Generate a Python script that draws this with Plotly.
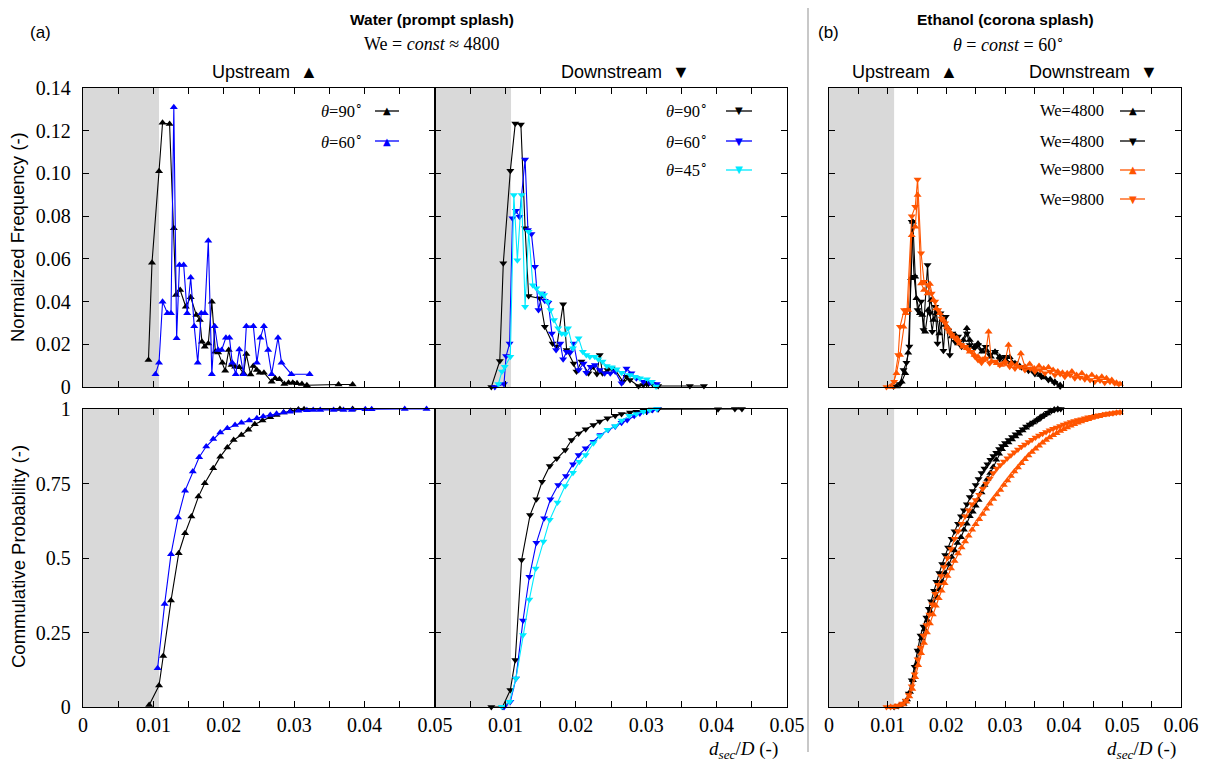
import plotly.graph_objects as go

# page offset of the plot div inside the browser window (default body margin)
OFF = 8
W, H = 1211 - OFF, 763 - OFF

# ---------------- data ----------------
# (a) Water, normalized frequency, upstream
WF_UP90_X = [0.0093, 0.0098, 0.0108, 0.0113, 0.0123, 0.0129, 0.0132, 0.0138, 0.0146, 0.0153, 0.0161, 0.0166, 0.0169, 0.0173, 0.0178, 0.0183, 0.0188, 0.0192, 0.0198, 0.0202, 0.0207, 0.0211, 0.0216, 0.0222, 0.0228, 0.0232, 0.0238, 0.0242, 0.0247, 0.0251, 0.0257, 0.0268, 0.0273, 0.0279, 0.0286, 0.0292, 0.0298, 0.0304, 0.0311, 0.0318, 0.0363, 0.0383]
WF_UP90_Y = [0.0126, 0.0582, 0.101, 0.1237, 0.1231, 0.0743, 0.0431, 0.0454, 0.0376, 0.042, 0.0337, 0.0314, 0.0212, 0.0189, 0.0204, 0.0399, 0.0165, 0.0161, 0.0114, 0.0076, 0.0173, 0.0103, 0.0095, 0.0092, 0.0064, 0.0154, 0.0059, 0.0098, 0.008, 0.0067, 0.0067, 0.0025, 0.0041, 0.0036, 0.0014, 0.002, 0.002, 0.0017, 0.0014, 0.0008, 0.0012, 0.0012]
WF_UP60_X = [0.0103, 0.0108, 0.0113, 0.0120, 0.0125, 0.0129, 0.0133, 0.0137, 0.0143, 0.0148, 0.0153, 0.0158, 0.0163, 0.0168, 0.0173, 0.0178, 0.0183, 0.0187, 0.0192, 0.0197, 0.0203, 0.0208, 0.0212, 0.0217, 0.0222, 0.0228, 0.0232, 0.0242, 0.0247, 0.0252, 0.0257, 0.0263, 0.0268, 0.0277, 0.0282, 0.0296, 0.0322]
WF_UP60_Y = [0.006, 0.0114, 0.0399, 0.0345, 0.0345, 0.131, 0.0228, 0.0571, 0.0571, 0.0345, 0.0513, 0.0285, 0.0114, 0.0345, 0.0345, 0.0685, 0.006, 0.0285, 0.0173, 0.0173, 0.0231, 0.0231, 0.0114, 0.006, 0.0176, 0.006, 0.0285, 0.0285, 0.0114, 0.0231, 0.0285, 0.0173, 0.006, 0.0231, 0.0114, 0.006, 0.006]

# (a) Water, normalized frequency, downstream
WF_DN90_X = [0.0080, 0.0092, 0.0097, 0.0107, 0.0114, 0.0122, 0.0128, 0.0133, 0.0149, 0.0156, 0.0167, 0.0173, 0.0182, 0.0187, 0.0197, 0.0201, 0.0208, 0.0218, 0.0225, 0.0230, 0.0234, 0.0238, 0.0245, 0.0251, 0.0256, 0.0267, 0.0272, 0.0277, 0.0289, 0.0296, 0.0303, 0.0309, 0.0317, 0.0362, 0.0382]
WF_DN90_Y = [0.0, 0.0122, 0.0579, 0.1012, 0.1234, 0.1229, 0.0743, 0.0426, 0.0415, 0.0282, 0.0204, 0.0189, 0.0388, 0.0173, 0.011, 0.0072, 0.0119, 0.0064, 0.0095, 0.0061, 0.015, 0.0064, 0.008, 0.0087, 0.008, 0.0025, 0.0048, 0.0033, 0.0005, 0.0009, 0.0014, 0.0014, 0.0005, 0.0005, 0.0005]
WF_DN60_X = [0.0085, 0.0098, 0.0101, 0.0106, 0.0110, 0.0115, 0.0120, 0.0128, 0.0132, 0.0137, 0.0142, 0.0147, 0.0152, 0.0156, 0.0161, 0.0166, 0.0172, 0.0178, 0.0182, 0.0187, 0.0192, 0.0197, 0.0204, 0.0211, 0.0215, 0.0221, 0.0227, 0.0234, 0.0241, 0.0249, 0.0256, 0.0265, 0.0272, 0.0279, 0.0286, 0.0296, 0.0305, 0.0315]
WF_DN60_Y = [0.0, 0.0014, 0.0145, 0.0204, 0.079, 0.0825, 0.0797, 0.1065, 0.0735, 0.0716, 0.0563, 0.036, 0.0438, 0.0404, 0.0395, 0.0251, 0.0173, 0.0204, 0.013, 0.0165, 0.0161, 0.0204, 0.008, 0.011, 0.0067, 0.0095, 0.0103, 0.008, 0.0064, 0.0064, 0.0072, 0.0017, 0.0087, 0.0064, 0.0041, 0.0025, 0.002, 0.0014]
WF_DN45_X = [0.0090, 0.0095, 0.0099, 0.0107, 0.0112, 0.0117, 0.0123, 0.0128, 0.0133, 0.0139, 0.0144, 0.0150, 0.0155, 0.0160, 0.0164, 0.0169, 0.0175, 0.0180, 0.0185, 0.0189, 0.0196, 0.0204, 0.0210, 0.0215, 0.0220, 0.0227, 0.0232, 0.0238, 0.0244, 0.0251, 0.0258, 0.0265, 0.0277, 0.0284, 0.0291, 0.0301, 0.0308, 0.0314]
WF_DN45_Y = [0.0014, 0.0072, 0.0095, 0.0142, 0.0899, 0.0594, 0.0899, 0.0376, 0.0727, 0.0477, 0.0462, 0.0438, 0.0431, 0.0399, 0.036, 0.0314, 0.0275, 0.0251, 0.0248, 0.0275, 0.0181, 0.0228, 0.0165, 0.015, 0.0142, 0.0142, 0.013, 0.0119, 0.0098, 0.0092, 0.0083, 0.0067, 0.0056, 0.0048, 0.0041, 0.0036, 0.0025, 0.0002]

# (b) Ethanol, normalized frequency
EF_UP48_X = [0.0115, 0.0124, 0.0130, 0.0135, 0.0140, 0.0143, 0.0147, 0.0149, 0.0155, 0.0159, 0.0164, 0.0169, 0.0174, 0.0178, 0.0183, 0.0188, 0.0193, 0.0198, 0.0203, 0.0209, 0.0215, 0.0220, 0.0229, 0.0235, 0.0240, 0.0248, 0.0254, 0.0261, 0.0269, 0.0276, 0.0283, 0.0291, 0.0300, 0.0308, 0.0317, 0.0325, 0.0334, 0.0343, 0.0351, 0.0360, 0.0368, 0.0377, 0.0385, 0.0394]
EF_UP48_Y = [0.0002, 0.0025, 0.0064, 0.016, 0.0509, 0.0774, 0.0516, 0.0415, 0.0345, 0.0337, 0.0259, 0.036, 0.0407, 0.0314, 0.0345, 0.0251, 0.0314, 0.029, 0.0275, 0.0236, 0.0243, 0.0204, 0.022, 0.0275, 0.022, 0.0189, 0.0204, 0.0165, 0.017, 0.0142, 0.0165, 0.0142, 0.0126, 0.0139, 0.0111, 0.0098, 0.0092, 0.008, 0.0072, 0.0056, 0.0045, 0.0036, 0.0025, 0.0009]
EF_DN48_X = [0.0110, 0.0121, 0.0127, 0.0132, 0.0137, 0.0141, 0.0145, 0.0151, 0.0157, 0.0161, 0.0168, 0.0172, 0.0176, 0.0181, 0.0185, 0.0190, 0.0195, 0.0199, 0.0206, 0.0210, 0.0215, 0.0220, 0.0226, 0.0235, 0.0240, 0.0248, 0.0254, 0.0260, 0.0267, 0.0274, 0.0283, 0.0291, 0.0300, 0.0308, 0.0317, 0.0328, 0.0340, 0.0351, 0.0362, 0.0374, 0.0384, 0.0394]
EF_DN48_Y = [0.0002, 0.0014, 0.008, 0.0114, 0.019, 0.0774, 0.0516, 0.036, 0.040, 0.0267, 0.0571, 0.0345, 0.0259, 0.0376, 0.0204, 0.0345, 0.017, 0.0329, 0.015, 0.0251, 0.0212, 0.0236, 0.0189, 0.0251, 0.0197, 0.0181, 0.0197, 0.0173, 0.0189, 0.015, 0.0165, 0.013, 0.0142, 0.0114, 0.0111, 0.0092, 0.0076, 0.0061, 0.0048, 0.0033, 0.002, 0.0002]
EF_UP98_X = [0.0107, 0.0115, 0.0121, 0.0127, 0.0131, 0.0135, 0.0141, 0.0147, 0.0151, 0.0157, 0.0162, 0.0168, 0.0172, 0.0178, 0.0183, 0.0189, 0.0195, 0.0201, 0.0206, 0.0212, 0.0218, 0.0223, 0.0229, 0.0235, 0.0240, 0.0248, 0.0254, 0.0261, 0.0266, 0.0272, 0.0277, 0.0286, 0.0293, 0.0300, 0.0306, 0.0311, 0.0320, 0.0327, 0.0334, 0.0342, 0.0350, 0.0358, 0.0366, 0.0374, 0.0382, 0.0390, 0.0398, 0.0406, 0.0414, 0.0422, 0.0431, 0.0439, 0.0448, 0.0456, 0.0465, 0.0473, 0.0482, 0.0490, 0.0496]
EF_UP98_Y = [0.0, 0.0064, 0.015, 0.0282, 0.0345, 0.036, 0.0711, 0.075, 0.0899, 0.0485, 0.0454, 0.0438, 0.0482, 0.0407, 0.0368, 0.0345, 0.0314, 0.0282, 0.0259, 0.0236, 0.0228, 0.0204, 0.0189, 0.0181, 0.0165, 0.015, 0.0142, 0.0126, 0.0134, 0.0259, 0.0119, 0.0111, 0.0103, 0.0119, 0.0197, 0.0111, 0.0103, 0.0157, 0.0095, 0.0108, 0.0087, 0.0098, 0.0087, 0.0092, 0.008, 0.0072, 0.0067, 0.0064, 0.0072, 0.0056, 0.0064, 0.0048, 0.0056, 0.0044, 0.0048, 0.0041, 0.0033, 0.002, 0.0014]
EF_DN98_X = [0.0098, 0.0111, 0.0118, 0.0121, 0.0128, 0.0133, 0.0141, 0.0147, 0.0151, 0.0157, 0.0162, 0.0169, 0.0175, 0.0181, 0.0186, 0.0192, 0.0198, 0.0203, 0.0209, 0.0215, 0.0220, 0.0226, 0.0232, 0.0237, 0.0243, 0.0249, 0.0254, 0.0260, 0.0267, 0.0274, 0.0283, 0.0291, 0.0300, 0.0308, 0.0317, 0.0325, 0.0334, 0.0343, 0.0351, 0.0360, 0.0368, 0.0377, 0.0385, 0.0394, 0.0402, 0.0411, 0.0419, 0.0428, 0.0436, 0.0445, 0.0453, 0.0462, 0.0470, 0.0479, 0.0487, 0.0494]
EF_DN98_Y = [0.0, 0.0025, 0.015, 0.0282, 0.036, 0.036, 0.080, 0.0844, 0.0972, 0.0626, 0.0493, 0.0477, 0.0438, 0.040, 0.036, 0.0321, 0.0298, 0.0267, 0.0243, 0.0228, 0.0212, 0.0197, 0.0189, 0.0176, 0.0165, 0.0142, 0.0126, 0.0114, 0.0134, 0.0111, 0.0119, 0.0103, 0.0111, 0.0095, 0.0087, 0.0095, 0.008, 0.0087, 0.0072, 0.008, 0.0064, 0.0072, 0.0056, 0.0061, 0.0048, 0.0056, 0.0041, 0.0045, 0.0036, 0.0033, 0.0025, 0.003, 0.002, 0.0025, 0.0017, 0.0014]

# (a) Water, cumulative probability
WC_UP90_X = [0.0094, 0.0108, 0.0114, 0.0125, 0.0136, 0.0145, 0.0154, 0.0164, 0.0173, 0.0185, 0.0195, 0.0205, 0.0214, 0.0225, 0.0235, 0.0244, 0.0255, 0.0266, 0.0275, 0.0285, 0.0295, 0.0306, 0.0314, 0.0365, 0.0383]
WC_UP90_Y = [0.007, 0.072, 0.171, 0.357, 0.516, 0.583, 0.639, 0.706, 0.751, 0.801, 0.84, 0.871, 0.896, 0.913, 0.93, 0.949, 0.961, 0.972, 0.98, 0.988, 0.994, 0.998, 0.999, 1.0, 1.0]
WC_UP60_X = [0.0106, 0.0116, 0.0125, 0.0135, 0.0145, 0.0156, 0.0165, 0.0175, 0.0185, 0.0195, 0.0205, 0.0216, 0.0225, 0.0236, 0.0247, 0.0256, 0.0266, 0.0275, 0.0285, 0.0294, 0.0306, 0.0318, 0.0327, 0.0337, 0.0356, 0.0370, 0.0382, 0.0401, 0.0410, 0.0457, 0.0488]
WC_UP60_Y = [0.13, 0.346, 0.513, 0.636, 0.726, 0.79, 0.838, 0.874, 0.899, 0.921, 0.935, 0.946, 0.954, 0.961, 0.969, 0.975, 0.98, 0.984, 0.988, 0.991, 0.994, 0.996, 0.997, 0.997, 0.997, 0.997, 0.997, 0.999, 0.999, 1.0, 1.0]
WC_DN90_X = [0.0080, 0.0096, 0.0107, 0.0114, 0.0123, 0.0135, 0.0144, 0.0152, 0.0163, 0.0173, 0.0185, 0.0194, 0.0204, 0.0214, 0.0225, 0.0234, 0.0245, 0.0256, 0.0265, 0.0277, 0.0286, 0.0296, 0.0308, 0.0317, 0.0402, 0.0426, 0.0436]
WC_DN90_Y = [0.0, 0.001, 0.057, 0.158, 0.493, 0.644, 0.697, 0.756, 0.809, 0.834, 0.862, 0.896, 0.918, 0.932, 0.946, 0.958, 0.969, 0.977, 0.983, 0.988, 0.991, 0.995, 0.998, 0.999, 0.999, 1.0, 1.0]
WC_DN60_X = [0.0098, 0.0107, 0.0115, 0.0125, 0.0134, 0.0144, 0.0155, 0.0164, 0.0175, 0.0186, 0.0196, 0.0204, 0.0214, 0.0225, 0.0235, 0.0246, 0.0256, 0.0265, 0.0273, 0.0283, 0.0291, 0.0301, 0.0309, 0.0316]
WC_DN60_Y = [0.0, 0.018, 0.096, 0.29, 0.437, 0.551, 0.633, 0.697, 0.745, 0.775, 0.815, 0.846, 0.868, 0.89, 0.913, 0.93, 0.941, 0.954, 0.963, 0.977, 0.985, 0.991, 0.997, 1.0]
WC_DN45_X = [0.0095, 0.0106, 0.0115, 0.0125, 0.0134, 0.0143, 0.0154, 0.0163, 0.0174, 0.0185, 0.0196, 0.0205, 0.0214, 0.0225, 0.0234, 0.0245, 0.0256, 0.0265, 0.0276, 0.0286, 0.0296, 0.0305, 0.0315]
WC_DN45_Y = [0.001, 0.018, 0.096, 0.242, 0.361, 0.465, 0.555, 0.628, 0.686, 0.742, 0.786, 0.823, 0.846, 0.885, 0.909, 0.93, 0.943, 0.961, 0.977, 0.983, 0.991, 0.997, 1.0]

# (b) Ethanol, cumulative probability
EC_DN48_X = [0.0111, 0.0118, 0.0125, 0.0131, 0.0136, 0.0141, 0.0146, 0.0151, 0.0156, 0.0161, 0.0166, 0.0170, 0.0174, 0.0179, 0.0183, 0.0188, 0.0193, 0.0198, 0.0203, 0.0209, 0.0214, 0.0220, 0.0225, 0.0230, 0.0235, 0.0240, 0.0245, 0.0250, 0.0255, 0.0260, 0.0265, 0.0270, 0.0275, 0.0280, 0.0285, 0.0290, 0.0295, 0.0300, 0.0306, 0.0312, 0.0318, 0.0324, 0.0330, 0.0336, 0.0342, 0.0348, 0.0355, 0.0361, 0.0367, 0.0373, 0.0379, 0.0384, 0.0390, 0.0395]
EC_DN48_Y = [0.0, 0.003, 0.008, 0.02, 0.045, 0.09, 0.135, 0.19, 0.24, 0.27, 0.30, 0.33, 0.355, 0.39, 0.42, 0.45, 0.48, 0.51, 0.535, 0.565, 0.59, 0.615, 0.64, 0.66, 0.68, 0.705, 0.725, 0.745, 0.765, 0.785, 0.8, 0.815, 0.83, 0.842, 0.853, 0.866, 0.876, 0.886, 0.896, 0.906, 0.915, 0.924, 0.932, 0.941, 0.948, 0.955, 0.962, 0.97, 0.978, 0.987, 0.993, 0.997, 0.999, 1.0]
EC_UP48_X = [0.0113, 0.0120, 0.0127, 0.0133, 0.0138, 0.0143, 0.0148, 0.0153, 0.0158, 0.0163, 0.0168, 0.0173, 0.0178, 0.0183, 0.0188, 0.0193, 0.0198, 0.0204, 0.0209, 0.0214, 0.0219, 0.0225, 0.0230, 0.0235, 0.0240, 0.0245, 0.0250, 0.0255, 0.0260, 0.0265, 0.0270, 0.0275, 0.0280, 0.0285, 0.0290, 0.0295, 0.0300, 0.0306, 0.0312, 0.0318, 0.0324, 0.0330, 0.0336, 0.0342, 0.0348, 0.0354, 0.0360, 0.0366, 0.0372, 0.0378, 0.0384, 0.0390]
EC_UP48_Y = [0.0, 0.004, 0.01, 0.025, 0.05, 0.09, 0.14, 0.19, 0.23, 0.26, 0.29, 0.32, 0.345, 0.37, 0.395, 0.42, 0.45, 0.478, 0.503, 0.525, 0.55, 0.57, 0.595, 0.615, 0.64, 0.655, 0.675, 0.695, 0.72, 0.745, 0.765, 0.785, 0.805, 0.83, 0.85, 0.865, 0.878, 0.888, 0.898, 0.908, 0.917, 0.928, 0.937, 0.947, 0.955, 0.963, 0.972, 0.979, 0.985, 0.993, 0.998, 1.0]
EC_DN98_X = [0.0098, 0.0105, 0.0112, 0.0119, 0.0125, 0.0131, 0.0136, 0.0141, 0.0146, 0.0151, 0.0156, 0.0161, 0.0166, 0.0171, 0.0176, 0.0181, 0.0186, 0.0191, 0.0196, 0.0202, 0.0208, 0.0214, 0.0220, 0.0226, 0.0232, 0.0238, 0.0244, 0.0250, 0.0256, 0.0262, 0.0268, 0.0274, 0.0280, 0.0286, 0.0292, 0.0298, 0.0304, 0.0310, 0.0316, 0.0322, 0.0328, 0.0334, 0.0340, 0.0346, 0.0352, 0.0358, 0.0364, 0.0370, 0.0376, 0.0382, 0.0388, 0.0394, 0.0400, 0.0406, 0.0412, 0.0418, 0.0424, 0.0430, 0.0436, 0.0442, 0.0448, 0.0454, 0.0460, 0.0466, 0.0472, 0.0478, 0.0484, 0.0490, 0.0496]
EC_DN98_Y = [0.0, 0.0, 0.002, 0.005, 0.012, 0.022, 0.04, 0.07, 0.11, 0.16, 0.2, 0.24, 0.275, 0.31, 0.345, 0.38, 0.41, 0.44, 0.47, 0.5, 0.53, 0.565, 0.59, 0.615, 0.64, 0.66, 0.68, 0.695, 0.712, 0.732, 0.75, 0.767, 0.785, 0.80, 0.812, 0.824, 0.835, 0.845, 0.855, 0.864, 0.873, 0.881, 0.889, 0.897, 0.904, 0.911, 0.917, 0.923, 0.929, 0.934, 0.938, 0.943, 0.948, 0.952, 0.956, 0.96, 0.963, 0.966, 0.969, 0.972, 0.974, 0.977, 0.979, 0.981, 0.983, 0.985, 0.986, 0.988, 0.989]
EC_UP98_X = [0.0105, 0.0112, 0.0119, 0.0126, 0.0132, 0.0137, 0.0142, 0.0147, 0.0152, 0.0157, 0.0162, 0.0167, 0.0172, 0.0177, 0.0182, 0.0187, 0.0192, 0.0197, 0.0202, 0.0208, 0.0214, 0.0220, 0.0226, 0.0232, 0.0238, 0.0244, 0.0250, 0.0256, 0.0262, 0.0268, 0.0274, 0.0280, 0.0286, 0.0292, 0.0298, 0.0304, 0.0310, 0.0316, 0.0322, 0.0328, 0.0334, 0.0340, 0.0346, 0.0352, 0.0358, 0.0364, 0.0370, 0.0376, 0.0382, 0.0388, 0.0394, 0.0400, 0.0406, 0.0412, 0.0418, 0.0424, 0.0430, 0.0436, 0.0442, 0.0448, 0.0454, 0.0460, 0.0466, 0.0472, 0.0478, 0.0484, 0.0490, 0.0496]
EC_UP98_Y = [0.0, 0.001, 0.003, 0.008, 0.018, 0.035, 0.06, 0.1, 0.14, 0.18, 0.215, 0.25, 0.28, 0.31, 0.34, 0.365, 0.39, 0.415, 0.44, 0.465, 0.49, 0.515, 0.535, 0.555, 0.575, 0.595, 0.613, 0.63, 0.648, 0.665, 0.682, 0.698, 0.713, 0.728, 0.745, 0.76, 0.775, 0.79, 0.804, 0.818, 0.831, 0.844, 0.856, 0.867, 0.877, 0.887, 0.896, 0.904, 0.912, 0.919, 0.926, 0.932, 0.938, 0.944, 0.949, 0.954, 0.958, 0.962, 0.966, 0.97, 0.973, 0.976, 0.979, 0.981, 0.983, 0.985, 0.987, 0.988]

# shaded (unresolved) size range, per liquid
WATER_LIMIT = 0.0108
ETHANOL_LIMIT = 0.0111

# axis ticks (labelled) – minor ticks every 0.005 are added by the axis
X_TICKS_05 = [0.0, 0.01, 0.02, 0.03, 0.04, 0.05]
X_LABELS_05 = ["0", "0.01", "0.02", "0.03", "0.04", "0.05"]
X_TICKS_05_MID = [0.01, 0.02, 0.03, 0.04, 0.05]
X_LABELS_05_MID = ["0.01", "0.02", "0.03", "0.04", "0.05"]
X_TICKS_06 = [0.0, 0.01, 0.02, 0.03, 0.04, 0.05, 0.06]
X_LABELS_06 = ["0", "0.01", "0.02", "0.03", "0.04", "0.05", "0.06"]
Y_TICKS_FREQ = [0, 0.02, 0.04, 0.06, 0.08, 0.10, 0.12, 0.14]
Y_LABELS_FREQ = ["0", "0.02", "0.04", "0.06", "0.08", "0.10", "0.12", "0.14"]
Y_TICKS_CUM = [0, 0.25, 0.5, 0.75, 1]
Y_LABELS_CUM = ["0", "0.25", "0.5", "0.75", "1"]

# ---------------- styling ----------------
BLACK = "#000000"
BLUE = "#0000ff"
CYAN = "#00eaff"
ORANGE = "#ff5500"
SERIF = "Liberation Serif"
SANS = "Liberation Sans"

fig = go.Figure()


def px(x):
    return (x - OFF) / W


def py(y):
    return 1 - (y - OFF) / H


def add(xs, ys, color, symbol, ax):
    fig.add_trace(go.Scatter(
        x=xs, y=ys, mode="lines+markers",
        line=dict(color=color, width=1.1),
        marker=dict(symbol=symbol, size=7, color=color, line=dict(width=0)),
        xaxis="x" + ax, yaxis="y" + ax, cliponaxis=False,
        showlegend=False, hoverinfo="skip"))


UP, DN = "triangle-up", "triangle-down"
add(WF_UP90_X, WF_UP90_Y, BLACK, UP, "")
add(WF_UP60_X, WF_UP60_Y, BLUE, UP, "")
add(WF_DN90_X, WF_DN90_Y, BLACK, DN, "2")
add(WF_DN60_X, WF_DN60_Y, BLUE, DN, "2")
add(WF_DN45_X, WF_DN45_Y, CYAN, DN, "2")
add(EF_UP48_X, EF_UP48_Y, BLACK, UP, "3")
add(EF_DN48_X, EF_DN48_Y, BLACK, DN, "3")
add(EF_UP98_X, EF_UP98_Y, ORANGE, UP, "3")
add(EF_DN98_X, EF_DN98_Y, ORANGE, DN, "3")
add(WC_UP90_X, WC_UP90_Y, BLACK, UP, "4")
add(WC_UP60_X, WC_UP60_Y, BLUE, UP, "4")
add(WC_DN90_X, WC_DN90_Y, BLACK, DN, "5")
add(WC_DN60_X, WC_DN60_Y, BLUE, DN, "5")
add(WC_DN45_X, WC_DN45_Y, CYAN, DN, "5")
add(EC_DN48_X, EC_DN48_Y, BLACK, DN, "6")
add(EC_UP48_X, EC_UP48_Y, BLACK, UP, "6")
add(EC_DN98_X, EC_DN98_Y, ORANGE, DN, "6")
add(EC_UP98_X, EC_UP98_Y, ORANGE, UP, "6")

XD = [[px(83), px(435)], [px(435), px(787)], [px(829), px(1181)]]
YD = [[py(387), py(88)], [py(707), py(409)]]

layout = dict(
    width=W, height=H,
    margin=dict(l=0, r=0, t=0, b=0, autoexpand=False),
    paper_bgcolor="white", plot_bgcolor="white",
    showlegend=False,
)

common = dict(showgrid=False, zeroline=False, showline=True, linecolor=BLACK,
              linewidth=1.3, ticks="inside", ticklen=6, tickwidth=1,
              tickcolor=BLACK, mirror="allticks", automargin=False,
              tickfont=dict(family=SERIF, size=20, color=BLACK))

shapes = []
for i in range(6):
    row, col = divmod(i, 3)
    sid = "" if i == 0 else str(i + 1)
    if col == 2:
        tv, tt, rng, lim = X_TICKS_06, X_LABELS_06, [0, 0.06], ETHANOL_LIMIT
    elif col == 1:
        tv, tt, rng, lim = X_TICKS_05_MID, X_LABELS_05_MID, [0, 0.05], WATER_LIMIT
    else:
        tv, tt, rng, lim = X_TICKS_05, X_LABELS_05, [0, 0.05], WATER_LIMIT
    layout["xaxis" + sid] = dict(common, domain=XD[col], range=rng,
                                 anchor="y" + sid, tickmode="array",
                                 tickvals=tv, ticktext=tt,
                                 showticklabels=(row == 1),
                                 minor=dict(tickmode="linear", tick0=0,
                                            dtick=0.005, ticks="inside",
                                            ticklen=6, tickwidth=1,
                                            tickcolor=BLACK, showgrid=False))
    if row == 0:
        yv, yt, yr = Y_TICKS_FREQ, Y_LABELS_FREQ, [0, 0.14]
    else:
        yv, yt, yr = Y_TICKS_CUM, Y_LABELS_CUM, [0, 1]
    layout["yaxis" + sid] = dict(common, domain=YD[row], range=yr,
                                 anchor="x" + sid, tickmode="array",
                                 tickvals=yv, ticktext=yt,
                                 ticklabelstandoff=7,
                                 showticklabels=(col == 0))
    shapes.append(dict(type="rect", xref="x" + sid, yref="y" + sid + " domain",
                       x0=0, x1=lim, y0=0, y1=1, fillcolor="#d9d9d9",
                       line=dict(width=0), layer="below"))

# separator line between (a) and (b)
shapes.append(dict(type="line", xref="paper", yref="paper",
                   x0=px(808), x1=px(808), y0=py(8), y1=py(752),
                   line=dict(color="#c8c8c8", width=2)))

ann = []


def text(x, y, s, size, family=SANS, xanchor="center", angle=0, color=BLACK):
    ann.append(dict(x=px(x), y=py(y), xref="paper", yref="paper", text=s,
                    showarrow=False, xanchor=xanchor, yanchor="middle",
                    textangle=angle,
                    font=dict(family=family, size=size, color=color)))


text(40, 33, "(a)", 17)
text(828, 33, "(b)", 17)
text(432, 19, "<b>Water (prompt splash)</b>", 15.5)
text(432, 44, "We = <i>const</i> ≈ 4800", 18, SERIF)
text(1005, 19, "<b>Ethanol (corona splash)</b>", 15.5)
text(1008, 44, "<i>θ</i> = <i>const</i> = 60<sup>∘</sup>", 18, SERIF)
text(265, 72, "Upstream  ▲", 18)
text(625, 72, "Downstream  ▼", 18)
text(905, 72, "Upstream  ▲", 18)
text(1093, 72, "Downstream  ▼", 18)
text(18, 237, "Normalized Frequency (-)", 18.5, angle=-90)
text(18, 557, "Commulative Probability (-)", 18.5, angle=-90)
text(743, 750, "<i>d<sub>sec</sub></i>/<i>D</i> (-)", 19, SERIF)
text(1141, 750, "<i>d<sub>sec</sub></i>/<i>D</i> (-)", 19, SERIF)


def legend_row(x_text, x0, x1, y, label, color, glyph):
    text(x_text, y, label, 16.5, SERIF, xanchor="right")
    shapes.append(dict(type="line", xref="paper", yref="paper",
                       x0=px(x0), x1=px(x1), y0=py(y), y1=py(y),
                       line=dict(color=color, width=1.3)))
    text((x0 + x1) / 2, y, glyph, 10, "DejaVu Sans", color=color)


legend_row(365, 375, 399, 111, "<i>θ</i>=90<sup>∘</sup>", BLACK, "▲")
legend_row(365, 375, 399, 141, "<i>θ</i>=60<sup>∘</sup>", BLUE, "▲")
legend_row(710, 726, 752, 111, "<i>θ</i>=90<sup>∘</sup>", BLACK, "▼")
legend_row(710, 726, 752, 141, "<i>θ</i>=60<sup>∘</sup>", BLUE, "▼")
legend_row(710, 726, 752, 170, "<i>θ</i>=45<sup>∘</sup>", CYAN, "▼")
legend_row(1106, 1120, 1145, 111, "We=4800", BLACK, "▲")
legend_row(1106, 1120, 1145, 141, "We=4800", BLACK, "▼")
legend_row(1106, 1120, 1145, 170, "We=9800", ORANGE, "▲")
legend_row(1106, 1120, 1145, 199, "We=9800", ORANGE, "▼")

layout["shapes"] = shapes
layout["annotations"] = ann
fig.update_layout(**layout)
fig.write_html("out.html")
